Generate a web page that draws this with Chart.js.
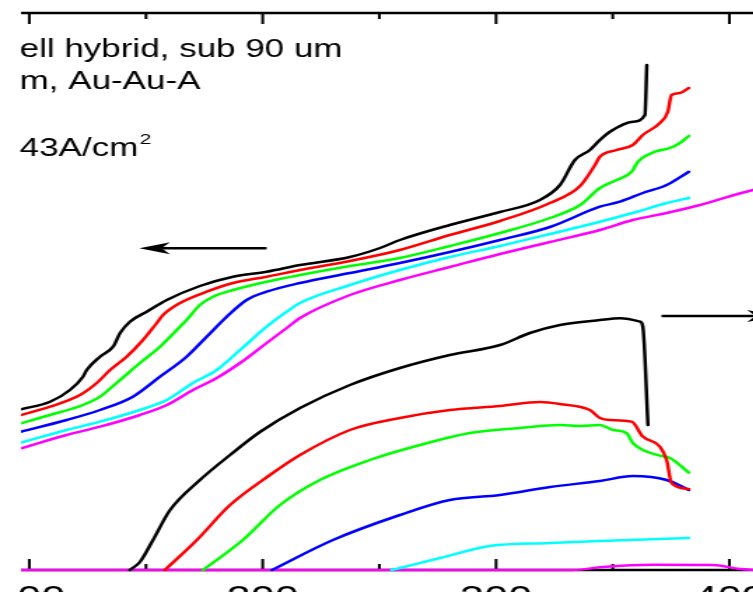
<!DOCTYPE html>
<html>
<head>
<meta charset="utf-8">
<script src="https://cdn.jsdelivr.net/npm/chart.js@4/dist/chart.umd.min.js"></script>
<style>
  html, body { margin: 0; padding: 0; background: #fff; overflow: hidden; width: 753px; height: 592px; }
  #wrap { position: absolute; left: 19px; top: 0; width: 734px; height: 592px; overflow: hidden; }
  /* the figure is drawn narrow and widened horizontally */
  #c { position: absolute; left: -75px; top: 0; transform: scaleX(1.4); transform-origin: 0 0; }
</style>
</head>
<body>
<div id="wrap"><canvas id="c" width="620" height="620"></canvas></div>
<script>
// x: current density; upper family -> left axis (voltage), lower family -> right axis (power)
const xTicks = [100, 150, 200, 250, 300, 350, 400];

// voltage curves [x, V]
const vBlack = [[96.4,560.7],[108.9,568.3],[117.4,580],[123.0,593.3],[124.6,600],[130.3,613.3],[135.9,623.3],[138.9,637],[143.1,648.3],[150.3,658.3],[158.9,670],[173.1,684],[187.3,693.3],[201.7,698.3],[216.0,705],[237.4,713],[250.3,722],[258.8,730],[280.2,745],[301.7,758],[318.8,770],[327.4,785],[333.8,810],[340.2,820],[344.5,830],[348.8,838.3],[358.6,848.3],[363.8,855],[364.6,905]];
const vRed = [[96.4,555],[108.9,563.3],[121.7,575],[128.9,587],[134.6,600],[141.7,613.3],[148.7,630],[154.6,647],[157.3,655],[164.6,667],[176.0,678.3],[187.3,687],[201.7,693.3],[216.0,700],[237.4,709],[258.8,720],[280.2,735],[301.7,749],[323.1,767],[336.0,784],[342.4,805],[344.5,813.3],[351.7,820],[358.6,825],[362.9,835],[370.2,847],[373.6,858.3],[375.2,875],[378.8,877],[382.6,882]];
const vGreen = [[96.4,546.7],[108.9,555],[123.0,565],[130.3,573.3],[137.4,587],[147.4,607],[156.0,623.3],[163.2,640],[167.4,650],[173.1,665],[178.7,673.3],[187.3,680],[201.7,688.3],[216.0,695],[237.4,704],[258.8,712],[280.2,724],[301.7,737],[323.1,752],[336.0,765],[344.5,782],[351.7,790],[358.1,798.3],[360.8,808.3],[368.1,818.3],[374.5,822],[378.8,827],[382.6,834]];
const vBlue = [[96.4,538.3],[116.0,550],[130.3,560],[144.4,573.3],[156.0,593.3],[167.4,613.3],[176.0,633.3],[184.6,653.3],[193.1,670],[201.7,678.3],[216.0,687],[237.4,697],[258.8,707],[280.2,718],[301.7,730],[323.1,743],[344.5,763.3],[353.1,768.3],[362.9,777],[373.1,785],[382.6,798.3]];
const vCyan = [[96.4,527.3],[116.0,540],[130.3,548.3],[147.4,560],[158.9,570],[170.1,587],[180.3,600],[190.3,620],[201.7,643.3],[210.3,658.3],[216.0,667],[237.4,685],[258.8,700],[280.2,713],[301.7,724],[323.1,736],[344.5,748.3],[358.6,757],[373.1,767],[382.6,772]];
const vMagenta = [[96.4,521.7],[116.0,535],[130.3,543.3],[147.4,555],[158.9,565],[170.1,580],[180.3,592],[190.3,607],[201.7,627],[210.3,642],[216.0,652],[237.4,675],[258.8,690],[280.2,703],[301.7,716],[323.1,728],[344.5,740],[358.6,750],[373.1,757],[387.4,765],[410.1,780],[415,782]];

// power curves [x, P]
const pBlack = [[143.1,0],[147.4,4],[153.0,15],[160.3,30],[173.1,45],[186.0,57.5],[198.8,69],[216.0,81],[237.4,92.5],[258.8,101],[280.2,107.5],[301.7,112.5],[314.5,118.5],[327.4,122.5],[344.5,125],[353.1,125.9],[361.7,124.2],[362.9,121.7],[365.1,72.5]];
const pRed = [[158.1,0],[171.8,15],[186.0,32.5],[203.1,47.5],[216.0,57.5],[237.4,70],[258.8,76],[280.2,80],[301.7,82],[318.8,84],[327.4,83],[340.2,80],[344.5,76],[348.8,75],[358.1,74.2],[362.9,66.7],[370.2,61.7],[373.1,55],[375.2,43.5],[382.6,40.5]];
const pGreen = [[174.4,0],[191.5,15],[207.4,32.5],[224.5,45],[245.9,55],[267.4,62.5],[288.8,68.5],[310.3,71],[327.4,72.5],[336.0,72],[344.5,72.5],[350.1,70],[355.9,68.5],[358.6,63.5],[362.9,60],[370.2,57.2],[374.5,56],[382.6,48.7]];
const pBlue = [[204.0,0],[230.1,15],[258.8,27.5],[280.2,35],[301.7,37.5],[323.1,41.5],[344.5,44.5],[358.6,47],[373.1,45],[382.6,40]];
const pCyan = [[255.3,0],[258.8,1],[276.0,6],[297.4,12],[323.1,13.5],[344.5,14.5],[382.6,16]];
const pMagenta = [[96.4,0],[332.9,0],[345.8,1.5],[367.2,2.6],[392.9,2.5],[404.5,0.5],[412,0]];

// direction arrows: which axis each family belongs to
const arrowToVoltage = { from: [201.7, 721.7], to: [147.1, 721.7], axis: 'yV' };
const arrowToPower   = { from: [370.9, 127],   to: [420.8, 127],   axis: 'yP' };

const noteLines = ['ell hybrid, sub 90 um', 'm, Au-Au-A', '', '43A/cm'];
const noteSup = '2';

const FONT = '"Liberation Sans", Arial, Helvetica, sans-serif';
const toXY = arr => arr.map(([x, y]) => ({ x, y }));

function series(data, color, axis) {
  return {
    data: toXY(data), yAxisID: axis, borderColor: color, backgroundColor: color,
    borderWidth: 2.5, pointRadius: 0, fill: false,
    cubicInterpolationMode: 'monotone',
    borderJoinStyle: 'round', borderCapStyle: 'round',
    clip: { left: 0, top: 0, right: 0, bottom: 2 }
  };
}

const framePlugin = {
  id: 'frame',
  beforeDatasetsDraw(chart) {
    const { ctx, chartArea: a, scales } = chart;
    ctx.save();
    ctx.strokeStyle = '#000';
    ctx.lineWidth = 2.6;
    ctx.beginPath();
    ctx.moveTo(a.left, a.top); ctx.lineTo(a.right, a.top);
    ctx.moveTo(a.left, a.bottom); ctx.lineTo(a.right, a.bottom);
    ctx.stroke();
    ctx.lineWidth = 2;
    ctx.beginPath();
    xTicks.forEach(v => {
      const px = scales.x.getPixelForValue(v);
      const len = v % 100 === 0 ? 11 : 6;
      ctx.moveTo(px, a.top); ctx.lineTo(px, a.top + len);
      ctx.moveTo(px, a.bottom); ctx.lineTo(px, a.bottom - len);
    });
    ctx.stroke();
    ctx.restore();
  },
  afterDatasetsDraw(chart) {
    const { ctx, chartArea: a, scales } = chart;
    ctx.save();
    ctx.strokeStyle = '#000';
    ctx.fillStyle = '#000';
    [arrowToVoltage, arrowToPower].forEach(ar => {
      const x1 = scales.x.getPixelForValue(ar.from[0]);
      const x2 = scales.x.getPixelForValue(ar.to[0]);
      const y = scales[ar.axis].getPixelForValue(ar.from[1]);
      const dir = Math.sign(x2 - x1);
      const headLen = 22, headHalf = 6, notch = 16;
      ctx.lineWidth = 2.5;
      ctx.beginPath();
      ctx.moveTo(x1, y); ctx.lineTo(x2 - dir * notch, y);
      ctx.stroke();
      ctx.beginPath();
      ctx.moveTo(x2, y);
      ctx.lineTo(x2 - dir * headLen, y - headHalf);
      ctx.lineTo(x2 - dir * notch, y);
      ctx.lineTo(x2 - dir * headLen, y + headHalf);
      ctx.closePath();
      ctx.fill();
    });
    ctx.font = '25px ' + FONT;
    ctx.textBaseline = 'alphabetic';
    const tx = a.left - 1;
    const base = [57, 89, 121, 156];
    noteLines.forEach((t, i) => { if (t) ctx.fillText(t, tx, base[i]); });
    const w = ctx.measureText(noteLines[3]).width;
    ctx.font = '15px ' + FONT;
    ctx.fillText(noteSup, tx + w + 1, base[3] - 12);
    ctx.restore();
  }
};

new Chart(document.getElementById('c'), {
  type: 'line',
  data: {
    datasets: [
      series(vBlack, '#000000', 'yV'),
      series(vRed, '#ff0000', 'yV'),
      series(vGreen, '#00ff00', 'yV'),
      series(vBlue, '#0000ff', 'yV'),
      series(vCyan, '#00ffff', 'yV'),
      series(vMagenta, '#ff00ff', 'yV'),
      series(pBlack, '#000000', 'yP'),
      series(pRed, '#ff0000', 'yP'),
      series(pGreen, '#00ff00', 'yP'),
      series(pBlue, '#0000ff', 'yP'),
      series(pCyan, '#00ffff', 'yP'),
      series(pMagenta, '#ff00ff', 'yP')
    ]
  },
  options: {
    responsive: false,
    animation: false,
    devicePixelRatio: 1,
    layout: { padding: { left: 55, right: 39, top: 13, bottom: 0 } },
    plugins: { legend: { display: false }, tooltip: { enabled: false } },
    scales: {
      x: {
        type: 'linear', position: 'bottom', min: 96.44, max: 412,
        grid: { display: false }, border: { display: false },
        afterBuildTicks: s => { s.ticks = xTicks.map(v => ({ value: v })); },
        afterFit: s => { s.height = 50; },
        ticks: {
          autoSkip: false, maxRotation: 0, padding: 3, color: '#000',
          font: { family: FONT, size: 31 },
          callback: v => (v % 100 === 0 ? String(v) : '')
        }
      },
      yV: { type: 'linear', position: 'left', min: 400, max: 957, display: false },
      yP: { type: 'linear', position: 'right', min: 0, max: 278.5, display: false }
    }
  },
  plugins: [framePlugin]
});
</script>
</body>
</html>
